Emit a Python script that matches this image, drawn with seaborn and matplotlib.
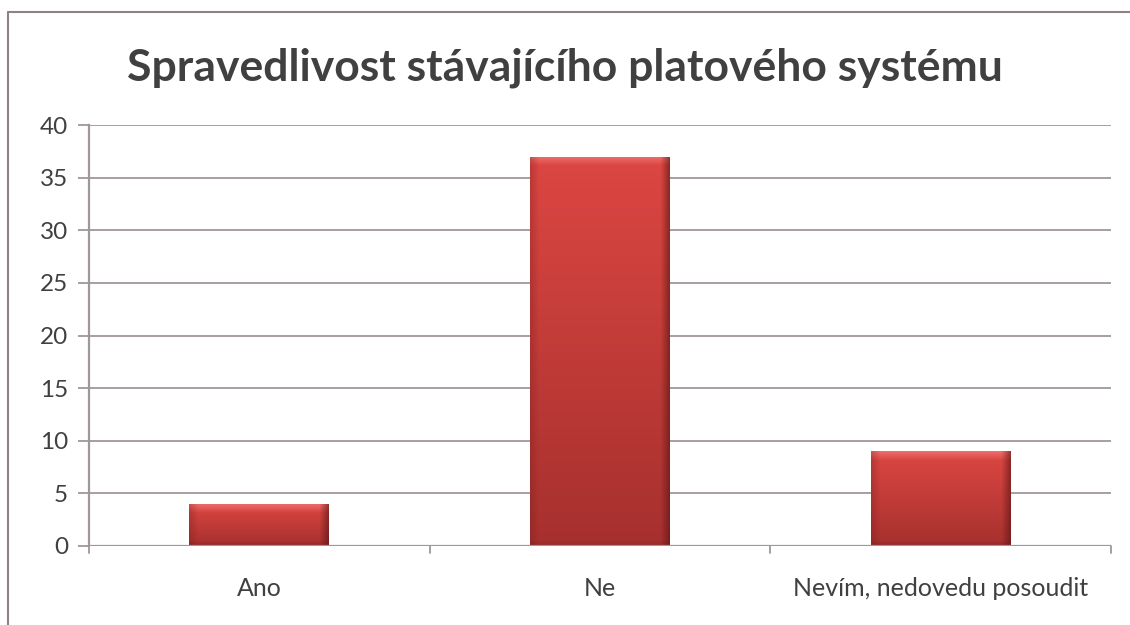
import numpy as np
import pandas as pd
import matplotlib
matplotlib.use("Agg")
import matplotlib.pyplot as plt
import seaborn as sns
from matplotlib.lines import Line2D

categories = ["Ano", "Ne", "Nevím, nedovedu posoudit"]
values = [4, 37, 9]
title = "Spravedlivost stávajícího platového systému"
yticks = [0, 5, 10, 15, 20, 25, 30, 35, 40]

sns.set_theme(style="white")
plt.rcParams["font.family"] = ["Lato", "DejaVu Sans"]

W, H = 1130, 625
fig = plt.figure(figsize=(W / 100, H / 100), dpi=100)
ax = fig.add_axes([89 / W, 1 - 546 / H, (1111 - 89) / W, (546 - 125) / H])

df = pd.DataFrame({"cat": categories, "val": values})
sns.barplot(data=df, x="cat", y="val", color="#D5433E", width=0.41, ax=ax,
            zorder=3, edgecolor="none", linewidth=0)

ax.set_ylim(0, 40)
ax.set_xlim(-0.5, len(categories) - 0.5)
ax.set_yticks(yticks)
ax.set_xlabel("")
ax.set_ylabel("")

grid_col = "#A09797"
for y in yticks[1:]:
    ax.axhline(y, color=grid_col, lw=1.3, zorder=1)
ax.axhline(0, color=grid_col, lw=1.6, zorder=5)

for s in ["top", "right", "bottom"]:
    ax.spines[s].set_visible(False)
ax.spines["left"].set_color(grid_col)
ax.spines["left"].set_linewidth(1.6)
ax.spines["left"].set_zorder(5)

ax.tick_params(axis="y", length=8, width=1.3, color=grid_col, labelsize=17.5,
               labelcolor="#404040", pad=7, left=True, direction="out")
ax.tick_params(axis="x", length=0, labelsize=18, labelcolor="#404040", pad=22)

# category boundary ticks
trans = ax.get_xaxis_transform()
for xb in np.arange(-0.5, len(categories), 1.0):
    ax.add_line(Line2D([xb, xb], [0, -7 / 421], transform=trans, color=grid_col,
                       lw=1.3, clip_on=False, zorder=5))

# bevel gradient fill for each bar
fig.canvas.draw()
top_c = np.array([0xDC, 0x47, 0x42]) / 255
bot_c = np.array([0xA6, 0x30, 0x2E]) / 255
for patch in ax.patches:
    x0, y0 = patch.get_x(), patch.get_y()
    w, h = patch.get_width(), patch.get_height()
    p0 = ax.transData.transform((x0, y0))
    p1 = ax.transData.transform((x0 + w, y0 + h))
    wp = max(int(round(p1[0] - p0[0])), 2)
    hp = max(int(round(p1[1] - p0[1])), 2)
    t = np.linspace(0, 1, hp)[:, None, None]
    img = (1 - t) * top_c + t * bot_c
    img = np.broadcast_to(img, (hp, wp, 3)).copy()
    b = 9
    for i in range(min(b, hp)):
        f = (1 - i / b) * 0.55
        img[i, :, :] = img[i, :, :] * (1 - f) + np.array([1.0, 0.55, 0.55]) * f
    for j in range(min(b, wp)):
        f = (1 - j / b) * 0.6
        img[:, wp - 1 - j, :] = img[:, wp - 1 - j, :] * (1 - f) + np.array([0.35, 0.08, 0.08]) * f
    for j in range(min(b, wp)):
        f = (1 - j / b) * 0.3
        img[:, j, :] = img[:, j, :] * (1 - f) + np.array([0.45, 0.1, 0.1]) * f
    for i in range(min(5, hp)):
        f = (1 - i / 5) * 0.3
        img[hp - 1 - i, :, :] = img[hp - 1 - i, :, :] * (1 - f) + np.array([0.4, 0.1, 0.1]) * f
    im = ax.imshow(np.clip(img, 0, 1), extent=(x0, x0 + w, y0, y0 + h),
                   aspect="auto", zorder=4, interpolation="bilinear")
    im.set_clip_path(patch)

ax.set_xlim(-0.5, len(categories) - 0.5)
ax.set_ylim(0, 40)

fig.text(0.5, 1 - 68 / H, title, ha="center", va="center", fontsize=32,
         fontweight="bold", color="#404040")

bc = "#8E8282"
fig.add_artist(Line2D([8 / W, 1.0], [1 - 12 / H, 1 - 12 / H], transform=fig.transFigure,
                      color=bc, lw=1.5))
fig.add_artist(Line2D([8 / W, 8 / W], [0, 1 - 12 / H], transform=fig.transFigure,
                      color=bc, lw=1.5))

fig.savefig("out.png", dpi=100)
